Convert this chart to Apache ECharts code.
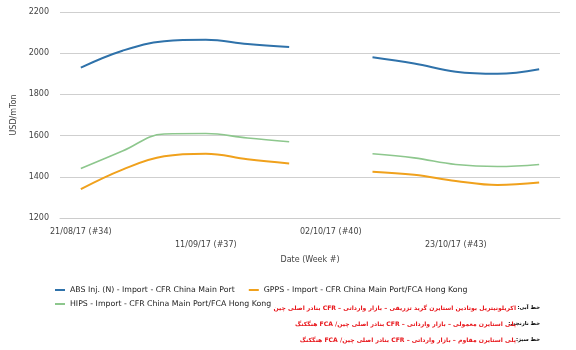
<!DOCTYPE html>
<html><head><meta charset="utf-8">
<script src="https://cdn.jsdelivr.net/npm/echarts@6/dist/echarts.min.js"></script>
<style>html,body{margin:0;padding:0;background:#fff}#c{width:576px;height:350px}</style>
</head><body><div id="c"></div>
<script>
const categories = ['21/08/17 (#34)','28/08/17 (#35)','04/09/17 (#36)','11/09/17 (#37)','18/09/17 (#38)','25/09/17 (#39)','02/10/17 (#40)','09/10/17 (#41)','16/10/17 (#42)','23/10/17 (#43)','30/10/17 (#44)','06/11/17 (#45)'];
const absValues  = [1930, 2012, 2058, 2065, 2045, 2030, null, 1980, 1950, 1910, 1900, 1922];
const gppsValues = [1340, 1435, 1500, 1512, 1485, 1465, null, 1425, 1410, 1380, 1360, 1372];
const hipsValues = [1440, 1525, 1608, 1610, 1588, 1570, null, 1512, 1492, 1460, 1450, 1460];
const seriesNames = ['ABS Inj. (N) - Import - CFR China Main Port','GPPS - Import - CFR China Main Port/FCA Hong Kong','HIPS - Import - CFR China Main Port/FCA Hong Kong'];
const yTicks = {min: 1200, max: 2200, interval: 200};
const notePrefixes = ['خط آبی:','خط نارنجی:','خط سبز:'];
const noteTexts = [
  'اکریلونیتریل بوتادین استایرن گرید تزریقی – بازار وارداتی – CFR بنادر اصلی چین',
  'پلی استایرن معمولی – بازار وارداتی – CFR بنادر اصلی چین/ FCA هنگکنگ',
  'پلی استایرن مقاوم – بازار وارداتی – CFR بنادر اصلی چین/ FCA هنگکنگ'
];
const colors = ['#2f72aa','#f0a11c','#8dc78d'];
const FONT = 'DejaVu Sans';
const chart = echarts.init(document.getElementById('c'));
const mk = (i, data) => ({
  name: seriesNames[i], type: 'line', data: data, smooth: 0.4, connectNulls: false,
  showSymbol: false, symbol: 'none', lineStyle: {width: i===2?1.6:2, color: colors[i]}, itemStyle:{color: colors[i]}
});
const notes = [];
const ys = [308, 324, 340];
for (let i=0;i<3;i++){
  notes.push({type:'text', x: 540, y: ys[i], style:{text: '\u202B'+notePrefixes[i]+'\u202C', fill:'#000', font:'bold 5.3px "DejaVu Sans"', textAlign:'right', textVerticalAlign:'middle'}});
  notes.push({type:'text', x: 516, y: ys[i], style:{text: '\u202B'+noteTexts[i]+'\u202C', fill:'#e8161b', font:'bold 6.1px "DejaVu Sans"', textAlign:'right', textVerticalAlign:'middle'}});
}
const legendCommon = {itemWidth: 10, itemHeight: 2, icon: 'rect', itemGap: 14,
  textStyle: {fontFamily: FONT, fontSize: 7.8, color: '#222'}};
chart.setOption({
  animation: false,
  color: colors,
  textStyle: {fontFamily: FONT},
  grid: {left: 60, right: 16, top: 12, bottom: 132},
  legend: [
    Object.assign({left: 50, top: 281, data: [seriesNames[0], seriesNames[1]]}, legendCommon),
    Object.assign({left: 50, top: 295, data: [seriesNames[2]]}, legendCommon)
  ],
  xAxis: {
    type: 'category', data: categories, boundaryGap: true,
    name: 'Date (Week #)', nameLocation: 'middle', nameGap: 35,
    nameTextStyle: {fontFamily: FONT, fontSize: 8, color: '#444'},
    axisLine: {lineStyle: {color: '#ccc'}},
    axisTick: {alignWithLabel: true, interval: 2, length: 5, lineStyle: {color: '#ccc'}},
    axisLabel: {interval: 2, margin: 7, fontFamily: FONT, fontSize: 8, color: '#444',
      formatter: (v, idx) => (idx % 6 === 3 ? '\n' + v : v), lineHeight: 13}
  },
  yAxis: {
    type: 'value', min: yTicks.min, max: yTicks.max, interval: yTicks.interval,
    name: 'USD/mTon', nameLocation: 'middle', nameGap: 33, nameRotate: 90,
    nameTextStyle: {fontFamily: FONT, fontSize: 8, color: '#444'},
    axisLine: {show: false}, axisTick: {show: false},
    axisLabel: {margin: 11, fontFamily: FONT, fontSize: 8, color: '#444', formatter: v => String(v)},
    splitLine: {lineStyle: {color: '#cfcfcf', width: 1}}
  },
  graphic: notes,
  series: [mk(0, absValues), mk(1, gppsValues), mk(2, hipsValues)]
});
</script></body></html>
